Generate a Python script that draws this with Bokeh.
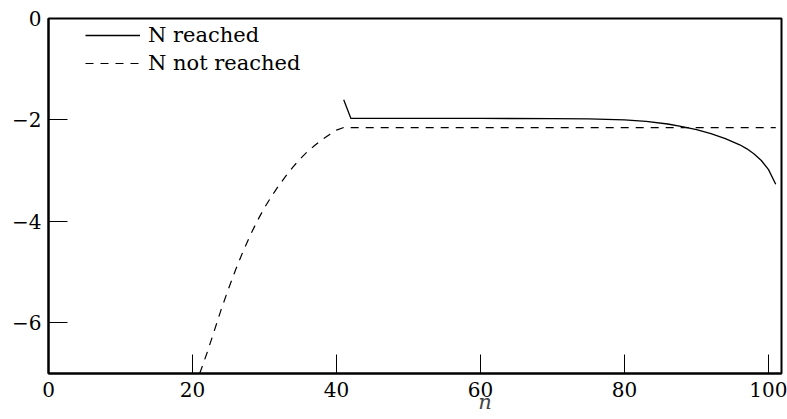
from bokeh.plotting import figure
from bokeh.models import Range1d, FixedTicker, Legend, LegendItem
from bokeh.embed import file_html
from bokeh.resources import INLINE

# --- data ---
n_not = [21, 22, 23, 24, 25, 26, 27, 28, 29, 30, 31, 32, 33, 34, 35, 36, 37, 38, 39, 40, 41, 42, 60, 80, 101]
v_not = [-7.0, -6.6, -6.17, -5.73, -5.33, -4.95, -4.6, -4.28, -3.99, -3.73, -3.5, -3.29, -3.1,
         -2.92, -2.76, -2.62, -2.5, -2.39, -2.29, -2.2, -2.15, -2.15, -2.15, -2.15, -2.15]

n_reach = [41, 42, 50, 60, 70, 75, 80, 83, 86, 88, 90, 92, 94, 96, 97, 98, 99, 100, 101]
v_reach = [-1.6, -1.97, -1.97, -1.97, -1.975, -1.98, -2.0, -2.03, -2.08, -2.13, -2.19, -2.27,
           -2.37, -2.49, -2.57, -2.67, -2.8, -2.98, -3.27]

x_ticks = [0, 20, 40, 60, 80, 100]
y_ticks = [0, -2, -4, -6]
y_tick_labels = {0: "0", -2: "\u22122", -4: "\u22124", -6: "\u22126"}
labels = ["N reached", "N not reached"]
x_label = "n"

FONT = "DejaVu Serif"

p = figure(width=787, height=419, output_backend="svg", toolbar_location=None,
           x_range=Range1d(0, 101.8), y_range=Range1d(-7, 0),
           min_border_left=48, min_border_right=6, min_border_top=18, min_border_bottom=46)
p.grid.visible = False
p.outline_line_color = "black"
p.outline_line_width = 2
p.background_fill_color = "white"
p.border_fill_color = "white"

for ax in (p.xaxis[0], p.yaxis[0]):
    ax.axis_line_width = 2
    ax.axis_line_color = "black"
    ax.major_tick_in = 19
    ax.major_tick_out = 0
    ax.major_tick_line_width = 1
    ax.major_tick_line_color = "black"
    ax.minor_tick_line_color = None
    ax.major_label_text_font = FONT
    ax.major_label_text_font_size = "20px"
    ax.major_label_text_color = "black"

p.xaxis[0].major_label_standoff = 8
p.yaxis[0].major_label_standoff = 7
p.xaxis[0].ticker = FixedTicker(ticks=x_ticks)
p.yaxis[0].ticker = FixedTicker(ticks=y_ticks)
p.yaxis[0].major_label_overrides = y_tick_labels
# the reference puts the axis title right of centre (under the 60 tick)
p.xaxis[0].axis_label = "\u00a0" * 21 + x_label
p.xaxis[0].axis_label_text_font = FONT
p.xaxis[0].axis_label_text_font_style = "italic"
p.xaxis[0].axis_label_text_font_size = "21px"
p.xaxis[0].axis_label_standoff = -10

r1 = p.line(n_reach, v_reach, line_color="black", line_width=1.3)
r2 = p.line(n_not, v_not, line_color="black", line_width=1.2, line_dash="8 7")

legend = Legend(items=[LegendItem(label=labels[0], renderers=[r1]),
                       LegendItem(label=labels[1], renderers=[r2])],
                location=(37, 296), glyph_width=55, glyph_height=28, label_height=28,
                label_standoff=8, spacing=0, padding=0, margin=0,
                border_line_color=None, background_fill_alpha=0,
                label_text_font=FONT, label_text_font_size="21px", label_text_color="black")
p.add_layout(legend, "center")

open("out.html", "w").write(file_html(p, INLINE))
